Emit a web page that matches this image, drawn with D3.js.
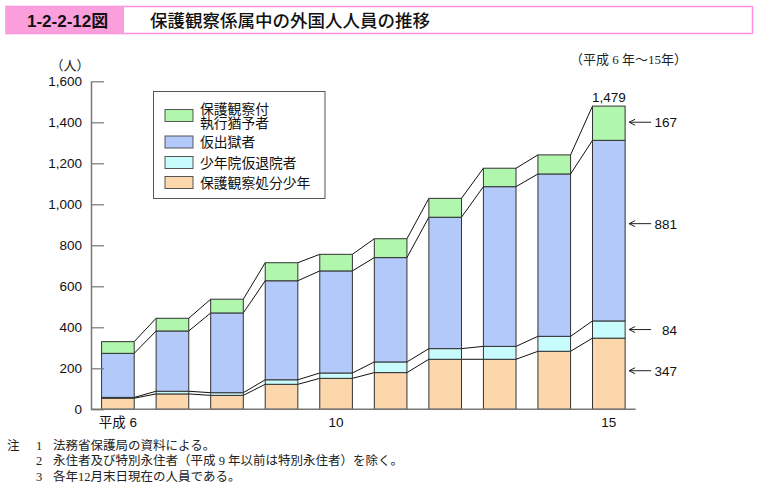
<!DOCTYPE html>
<html>
<head>
<meta charset="utf-8">
<script src="https://cdn.jsdelivr.net/npm/d3@7"></script>
<style>
  body { margin: 0; background: #fff; }
  svg { display: block; }
  .sans { font-family: "Liberation Sans", "Noto Sans CJK JP", sans-serif; }
  .serif { font-family: "Liberation Serif", "Noto Sans CJK JP", serif; }
</style>
</head>
<body>
<svg id="chart" width="759" height="501"></svg>
<script>
// 年（平成）
var years = [6, 7, 8, 9, 10, 11, 12, 13, 14, 15];
var yearLabels = {6: "平成 6", 10: "10", 15: "15"};

// 系列（下から積み上げ）
var seriesKeys = ["shobun", "shonenin", "karishutsugoku", "shikkoyuyo"];
var seriesNames = ["保護観察処分少年", "少年院仮退院者", "仮出獄者", "保護観察付\n執行猶予者"];
var seriesColors = ["#fdd7ac", "#c8fbfb", "#b2c9fa", "#b0f6ad"];

var shobun         = [54, 75, 68, 122, 151, 179, 244, 244, 283, 347];
var shonenin       = [4, 13, 13, 22, 26, 52, 52, 63, 73, 84];
var karishutsugoku = [215, 294, 389, 483, 498, 509, 641, 779, 792, 881];
var shikkoyuyo     = [57, 62, 67, 88, 81, 92, 92, 90, 93, 167];

var yTicks = [0, 200, 400, 600, 800, 1000, 1200, 1400, 1600];

var notes = [
  ["注", "1", "法務省保護局の資料による。"],
  ["", "2", "永住者及び特別永住者（平成 9 年以前は特別永住者）を除く。"],
  ["", "3", "各年12月末日現在の人員である。"]
];

var rows = years.map(function(y, i) {
  return {
    year: y,
    shobun: shobun[i],
    shonenin: shonenin[i],
    karishutsugoku: karishutsugoku[i],
    shikkoyuyo: shikkoyuyo[i]
  };
});

var svg = d3.select("#chart");

// ---- header ----
var header = svg.append("g");
header.append("rect")
    .attr("x", 6).attr("y", 6.5).attr("width", 746.5).attr("height", 27)
    .attr("fill", "#fff").attr("stroke", "#ff8fde").attr("stroke-width", 1.5);
header.append("rect")
    .attr("x", 6).attr("y", 6.5).attr("width", 118).attr("height", 27)
    .attr("fill", "#fb9fdc");
header.append("text")
    .attr("class", "sans")
    .attr("x", 27).attr("y", 26.5)
    .attr("font-size", 17).attr("font-weight", "bold")
    .attr("fill", "#111")
    .text("1-2-2-12図");
header.append("text")
    .attr("x", 150).attr("y", 26.5)
    .attr("font-family", "'Noto Sans CJK JP', sans-serif")
    .attr("font-size", 17.5).attr("font-weight", 500)
    .attr("fill", "#111")
    .text("保護観察係属中の外国人人員の推移");

svg.append("text")
    .attr("class", "serif")
    .attr("x", 687).attr("y", 64)
    .attr("text-anchor", "end")
    .attr("font-size", 13)
    .attr("fill", "#222")
    .text("（平成 6 年～15年）");

// ---- scales ----
var x = d3.scaleBand()
    .domain(years)
    .range([91, 635.7])
    .paddingInner(0.402)
    .paddingOuter(0.194);

var y = d3.scaleLinear()
    .domain([0, 1600])
    .range([409.3, 81.3]);

var stack = d3.stack().keys(seriesKeys);
var layers = stack(rows);

// ---- connector lines ----
var connectors = svg.append("g")
    .attr("stroke", "#111")
    .attr("stroke-width", 1)
    .attr("fill", "none");

layers.forEach(function(layer) {
  for (var i = 0; i < layer.length - 1; i++) {
    connectors.append("line")
        .attr("x1", x(years[i]) + x.bandwidth())
        .attr("y1", y(layer[i][1]))
        .attr("x2", x(years[i + 1]))
        .attr("y2", y(layer[i + 1][1]));
  }
});

// ---- bars ----
var barGroups = svg.selectAll(".layer")
    .data(layers)
  .enter().append("g")
    .attr("class", "layer")
    .attr("fill", function(d, i) { return seriesColors[i]; });

barGroups.selectAll("rect")
    .data(function(d) { return d; })
  .enter().append("rect")
    .attr("x", function(d) { return x(d.data.year); })
    .attr("y", function(d) { return y(d[1]); })
    .attr("width", x.bandwidth())
    .attr("height", function(d) { return y(d[0]) - y(d[1]); })
    .attr("stroke", "#333")
    .attr("stroke-width", 1);

// ---- axes ----
var yAxis = d3.axisLeft(y)
    .tickValues(yTicks)
    .tickFormat(d3.format(","))
    .tickSizeInner(-13)
    .tickSizeOuter(0)
    .tickPadding(9);

var yAxisG = svg.append("g")
    .attr("transform", "translate(91,0)")
    .call(yAxis);
yAxisG.select(".domain").attr("stroke", "#777").attr("stroke-width", 1.5);
yAxisG.selectAll(".tick line").attr("stroke", "#777").attr("stroke-width", 1.2);
yAxisG.selectAll(".tick text")
    .attr("class", "sans")
    .attr("font-size", 13.5)
    .attr("fill", "#111");

svg.append("line")
    .attr("x1", 91).attr("x2", 635.7)
    .attr("y1", y(0)).attr("y2", y(0))
    .attr("stroke", "#777").attr("stroke-width", 1.5);

var xAxis = d3.axisBottom(x)
    .tickValues(years.filter(function(d) { return yearLabels[d]; }))
    .tickFormat(function(d) { return yearLabels[d]; })
    .tickSize(0)
    .tickPadding(8);

var xAxisG = svg.append("g")
    .attr("transform", "translate(0," + y(0) + ")")
    .call(xAxis);
xAxisG.select(".domain").remove();
xAxisG.selectAll(".tick text")
    .attr("class", "sans")
    .attr("font-size", 13.5)
    .attr("fill", "#111");

svg.append("text")
    .attr("class", "serif")
    .attr("x", 70).attr("y", 70)
    .attr("text-anchor", "middle")
    .attr("font-size", 13)
    .attr("fill", "#222")
    .text("（人）");

// ---- total label & arrows for last year ----
var lastIdx = years.length - 1;
var lastYear = years[lastIdx];
var lastTotal = layers[layers.length - 1][lastIdx][1];

svg.append("text")
    .attr("class", "sans")
    .attr("x", x(lastYear) + x.bandwidth() / 2)
    .attr("y", y(lastTotal) - 4)
    .attr("text-anchor", "middle")
    .attr("font-size", 13.5)
    .attr("fill", "#111")
    .text(d3.format(",")(lastTotal));

// arrow nudge per layer (pixels), the 仮出獄者 arrow sits a bit above middle
var arrowNudge = [-3, 0, -7, -1];
var arrowX1 = x(lastYear) + x.bandwidth() + 4;
var arrowX2 = arrowX1 + 22;
var arrows = svg.append("g");
layers.forEach(function(layer, li) {
  var seg = layer[lastIdx];
  var ym = y((seg[0] + seg[1]) / 2) + arrowNudge[li];
  arrows.append("path")
      .attr("d", "M" + arrowX2 + "," + ym + "H" + arrowX1 +
                 "M" + (arrowX1 + 6) + "," + (ym - 3) + "L" + arrowX1 + "," + ym +
                 "L" + (arrowX1 + 6) + "," + (ym + 3))
      .attr("fill", "none")
      .attr("stroke", "#222")
      .attr("stroke-width", 1);
  arrows.append("text")
      .attr("class", "sans")
      .attr("x", 677)
      .attr("y", ym + 5)
      .attr("text-anchor", "end")
      .attr("font-size", 13.5)
      .attr("fill", "#111")
      .text(d3.format(",")(seg[1] - seg[0]));
});

// ---- legend ----
var legend = svg.append("g");
legend.append("rect")
    .attr("x", 153.5).attr("y", 91.5).attr("width", 171.5).attr("height", 107)
    .attr("fill", "#fff").attr("stroke", "#555").attr("stroke-width", 1);

var legendRowsY = [115.5, 142, 162.5, 182.5];
for (var k = seriesKeys.length - 1, r = 0; k >= 0; k--, r++) {
  var cy = legendRowsY[r];
  legend.append("rect")
      .attr("x", 165).attr("y", cy - 6)
      .attr("width", 28).attr("height", 12)
      .attr("fill", seriesColors[k])
      .attr("stroke", "#555").attr("stroke-width", 1);
  var lines = seriesNames[k].split("\n");
  var t = legend.append("text")
      .attr("class", "sans")
      .attr("font-size", 13.8)
      .attr("fill", "#111");
  lines.forEach(function(line, j) {
    t.append("tspan")
        .attr("x", 200)
        .attr("y", cy + 5 + (j - (lines.length - 1) / 2) * 14)
        .text(line);
  });
}

// ---- notes ----
var notesG = svg.append("g")
    .attr("class", "serif")
    .attr("font-size", 12.5)
    .attr("fill", "#222");
notes.forEach(function(n, i) {
  var ny = 449.5 + i * 15.5;
  notesG.append("text").attr("x", 7).attr("y", ny).text(n[0]);
  notesG.append("text").attr("x", 36).attr("y", ny).text(n[1]);
  notesG.append("text").attr("x", 53).attr("y", ny).text(n[2]);
});
</script>
</body>
</html>
